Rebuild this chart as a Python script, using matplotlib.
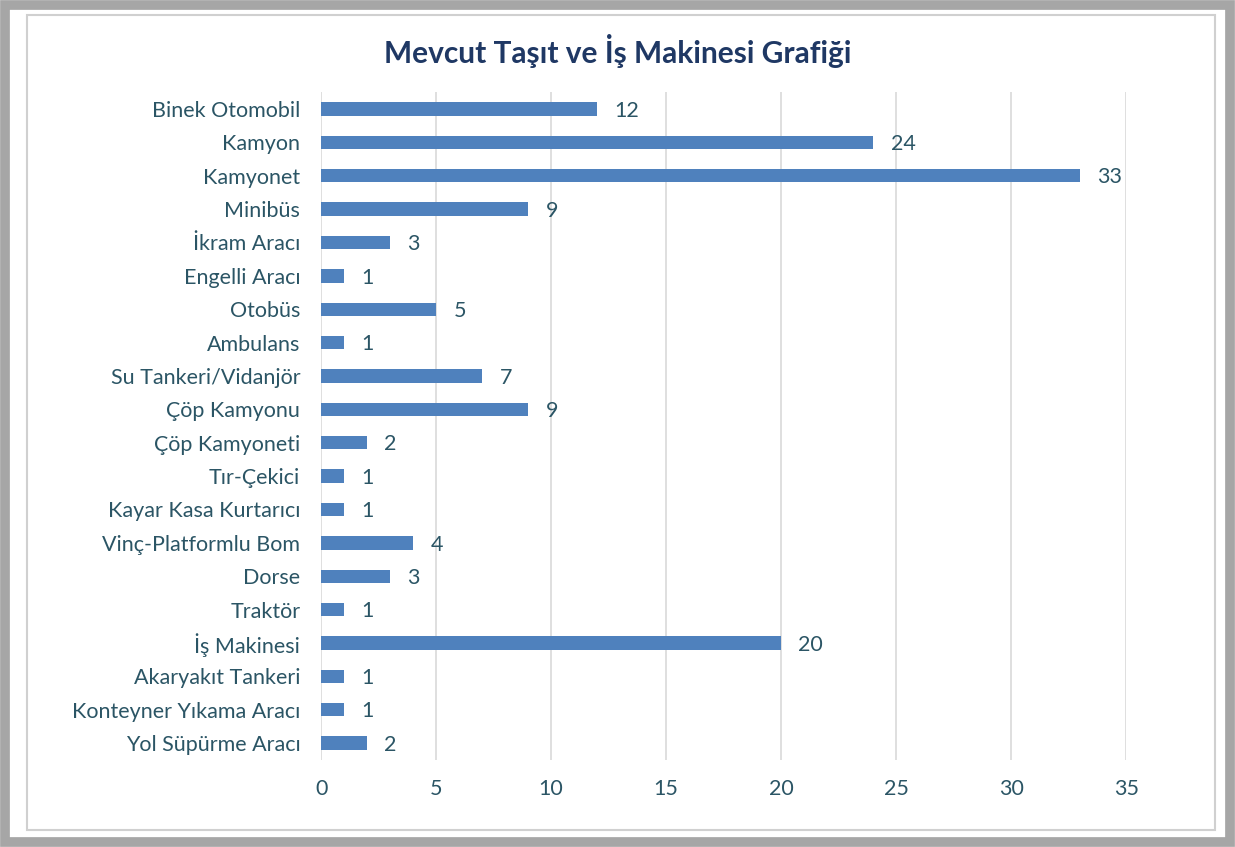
import matplotlib.pyplot as plt
from matplotlib.patches import Rectangle
import numpy as np

# data
categories = ['Binek Otomobil', 'Kamyon', 'Kamyonet', 'Minibüs', 'İkram Aracı',
              'Engelli Aracı', 'Otobüs', 'Ambulans', 'Su Tankeri/Vidanjör',
              'Çöp Kamyonu', 'Çöp Kamyoneti', 'Tır-Çekici', 'Kayar Kasa Kurtarıcı',
              'Vinç-Platformlu Bom', 'Dorse', 'Traktör', 'İş Makinesi',
              'Akaryakıt Tankeri', 'Konteyner Yıkama Aracı', 'Yol Süpürme Aracı']
values = [12, 24, 33, 9, 3, 1, 5, 1, 7, 9, 2, 1, 1, 4, 3, 1, 20, 1, 1, 2]
xticks = [0, 5, 10, 15, 20, 25, 30, 35]

plt.rcParams['font.family'] = ['Lato', 'DejaVu Sans']
txt_col = '#2B5565'
bar_col = '#4F81BD'

fig = plt.figure(figsize=(12.35, 8.47), dpi=100)
fig.patch.set_facecolor('white')

# frame around the chart
fig.patches.append(Rectangle((0.004, 0.006), 0.992, 0.988, transform=fig.transFigure,
                             fill=False, edgecolor='#A6A6A6', linewidth=7, zorder=0))
fig.patches.append(Rectangle((0.022, 0.02), 0.962, 0.962, transform=fig.transFigure,
                             fill=False, edgecolor='#D0D0D0', linewidth=1.5, zorder=0))

ax = fig.add_axes([0.26, 0.103, 0.652, 0.788])
y = np.arange(len(categories))
ax.barh(y, values, height=0.4, color=bar_col, zorder=3)
for yi, v in zip(y, values):
    ax.text(v + 0.75, yi + 0.05, str(v), va='center', ha='left', fontsize=15.5, color=txt_col)

ax.set_ylim(len(categories) - 0.5, -0.5)
ax.set_xlim(0, 35)
ax.set_yticks(y)
ax.set_yticklabels(categories, fontsize=15.5, color=txt_col)
ax.set_xticks(xticks)
ax.set_xticklabels([str(t) for t in xticks], fontsize=15.5, color=txt_col)
ax.tick_params(length=0, pad=14, axis='x')
ax.tick_params(length=0, pad=15, axis='y')
ax.grid(axis='x', color='#D9D9D9', linewidth=1.2, zorder=0)
for s in ax.spines.values():
    s.set_visible(False)

fig.text(0.5, 0.94, 'Mevcut Taşıt ve İş Makinesi Grafiği', ha='center', va='center',
         fontsize=21.5, fontweight='bold', color='#1F3864')

fig.savefig('out.png', dpi=100)
